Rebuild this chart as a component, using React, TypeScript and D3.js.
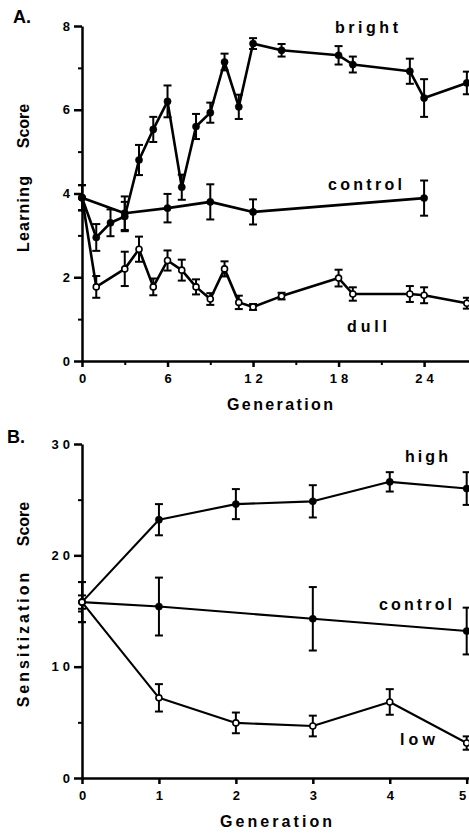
import React, { useEffect, useRef } from "react";
import * as d3 from "d3";

// Panel A: learning score by generation
const brightGen = [0, 1, 2, 3, 4, 5, 6, 7, 8, 9, 10, 11, 12, 14, 18, 19, 23, 24, 27];
const brightMean = [3.9, 2.95, 3.3, 3.45, 4.8, 5.53, 6.2, 4.15, 5.6, 5.93, 7.14, 6.07, 7.58, 7.42, 7.3, 7.08, 6.92, 6.28, 6.64];
const brightErr = [0.3, 0.32, 0.32, 0.35, 0.36, 0.3, 0.38, 0.3, 0.3, 0.24, 0.2, 0.29, 0.13, 0.15, 0.22, 0.19, 0.3, 0.45, 0.27];

const controlAGen = [0, 3, 6, 9, 12, 24];
const controlAMean = [3.9, 3.53, 3.65, 3.8, 3.56, 3.89];
const controlAErr = [0.3, 0.4, 0.34, 0.42, 0.3, 0.42];

const dullGen = [0, 1, 3, 4, 5, 6, 7, 8, 9, 10, 11, 12, 14, 18, 19, 23, 24, 27];
const dullMean = [3.9, 1.77, 2.2, 2.67, 1.77, 2.4, 2.17, 1.77, 1.48, 2.2, 1.4, 1.29, 1.55, 1.98, 1.6, 1.6, 1.57, 1.38];
const dullErr = [0.3, 0.26, 0.41, 0.3, 0.2, 0.24, 0.25, 0.18, 0.14, 0.18, 0.16, 0.07, 0.08, 0.2, 0.16, 0.19, 0.19, 0.13];

const ticksA = [0, 6, 12, 18, 24];
const minorTicksA = [3, 9, 15, 21];
const yTicksA = [0, 2, 4, 6, 8];
const yMinorA = [1, 3, 5, 7];

// Panel B: sensitization score by generation
const highGen = [0, 1, 2, 3, 4, 5];
const highMean = [15.8, 23.2, 24.6, 24.85, 26.6, 26.0];
const highErr = [1.8, 1.4, 1.35, 1.45, 0.87, 1.47];

const controlBGen = [0, 1, 3, 5];
const controlBMean = [15.8, 15.4, 14.3, 13.2];
const controlBErr = [0.6, 2.6, 2.85, 2.1];

const lowGen = [0, 1, 2, 3, 4, 5];
const lowMean = [15.8, 7.2, 4.95, 4.67, 6.83, 3.14];
const lowErr = [1.8, 1.23, 0.93, 0.93, 1.15, 0.6];

const ticksB = [0, 1, 2, 3, 4, 5];
const yTicksB = [0, 10, 20, 30];
const yMinorB = [5, 15, 25];

const FONT = "'Liberation Sans', Arial, Helvetica, sans-serif";

const zip = (gen, mean, err) => gen.map((g, i) => ({ g, m: mean[i], e: err[i] }));

const App = () => {
  const svgRef = useRef(null);

  useEffect(() => {
    const svg = d3.select(svgRef.current);
    svg.selectAll("*").remove();

    const drawPanel = (cfg) => {
      const { x, y, xTicks, xMinor, yTicks, yMinor, lineW } = cfg;
      const g = svg.append("g");
      const fmt = d3.format("d");

      // minor ticks first
      if (xMinor) {
        g.append("g")
          .attr("transform", `translate(0,${y.range()[0]})`)
          .call(d3.axisBottom(x).tickValues(xMinor).tickSize(4).tickSizeOuter(0).tickFormat(() => ""))
          .call((a) => a.select(".domain").remove())
          .selectAll("line")
          .attr("stroke-width", 2);
      }
      g.append("g")
        .attr("transform", `translate(${x.range()[0]},0)`)
        .call(d3.axisLeft(y).tickValues(yMinor).tickSize(4).tickSizeOuter(0).tickFormat(() => ""))
        .call((a) => a.select(".domain").remove())
        .selectAll("line")
        .attr("stroke-width", 2);

      const xAxis = g
        .append("g")
        .attr("transform", `translate(0,${y.range()[0]})`)
        .call(d3.axisBottom(x).tickValues(xTicks).tickFormat(fmt).tickSize(6).tickPadding(7).tickSizeOuter(0));
      const yAxis = g
        .append("g")
        .attr("transform", `translate(${x.range()[0]},0)`)
        .call(d3.axisLeft(y).tickValues(yTicks).tickFormat(fmt).tickSize(8).tickPadding(4).tickSizeOuter(0));

      [xAxis, yAxis].forEach((a) => {
        a.select(".domain").attr("stroke-width", 2.5);
        a.selectAll(".tick line").attr("stroke-width", 2.5);
        a.selectAll("text")
          .attr("font-family", FONT)
          .attr("font-weight", "bold")
          .attr("font-size", 13)
          .attr("letter-spacing", 4)
          .attr("fill", "#000");
      });
      xAxis.selectAll("text").attr("dx", 2);
      yAxis.selectAll("text").attr("dx", 4);
      // keep the last x label inside the picture
      xAxis.selectAll("text").filter((d) => x(d) > 462).attr("text-anchor", "end").attr("dx", 3);

      const line = d3
        .line()
        .x((d) => x(d.g))
        .y((d) => y(d.m));

      cfg.series.forEach((s) => {
        g.append("path")
          .datum(s.data)
          .attr("fill", "none")
          .attr("stroke", "#000")
          .attr("stroke-width", lineW)
          .attr("stroke-linejoin", "round")
          .attr("d", line);

        const bars = g.append("g").attr("stroke", "#000").attr("stroke-width", 2);
        s.data.forEach((d) => {
          const cx = x(d.g);
          bars.append("line").attr("x1", cx).attr("x2", cx).attr("y1", y(d.m - d.e)).attr("y2", y(d.m + d.e));
          bars.append("line").attr("x1", cx - 4).attr("x2", cx + 4).attr("y1", y(d.m + d.e)).attr("y2", y(d.m + d.e));
          bars.append("line").attr("x1", cx - 4).attr("x2", cx + 4).attr("y1", y(d.m - d.e)).attr("y2", y(d.m - d.e));
        });

        g.append("g")
          .selectAll("circle")
          .data(s.data)
          .join("circle")
          .attr("cx", (d) => x(d.g))
          .attr("cy", (d) => y(d.m))
          .attr("r", s.open ? 3 : 3.6)
          .attr("fill", s.open ? "#fff" : "#000")
          .attr("stroke", "#000")
          .attr("stroke-width", s.open ? 1.6 : 0.5);
      });

      const txt = (t, px, py, len, size = 16) =>
        g.append("text")
          .attr("x", px)
          .attr("y", py)
          .attr("font-family", FONT)
          .attr("font-weight", "bold")
          .attr("font-size", size)
          .attr("textLength", len)
          .attr("lengthAdjust", "spacing")
          .text(t);

      cfg.labels.forEach((l) => txt(l.t, l.x, l.y, l.w));
      txt("Generation", cfg.genX, cfg.genY, cfg.genW);
      g.append("text")
        .attr("x", cfg.panel[1])
        .attr("y", cfg.panel[2])
        .attr("font-family", FONT)
        .attr("font-weight", "bold")
        .attr("font-size", 18)
        .text(cfg.panel[0]);

      cfg.yTitle.forEach((w) => {
        g.append("text")
          .attr("transform", `translate(29,${w.c}) rotate(-90)`)
          .attr("text-anchor", "middle")
          .attr("font-family", FONT)
          .attr("font-weight", "bold")
          .attr("font-size", 16)
          .attr("letter-spacing", w.ls)
          .attr("dx", w.ls / 2)
          .text(w.t);
      });
    };

    drawPanel({
      x: d3.scaleLinear().domain([0, 27.15]).range([82, 469]),
      y: d3.scaleLinear().domain([0, 8]).range([361, 26]),
      xTicks: ticksA,
      xMinor: minorTicksA,
      yTicks: yTicksA,
      yMinor: yMinorA,
      lineW: 2.6,
      series: [
        { data: zip(controlAGen, controlAMean, controlAErr) },
        { data: zip(dullGen, dullMean, dullErr), open: true },
        { data: zip(brightGen, brightMean, brightErr) },
      ],
      labels: [
        { t: "bright", x: 335, y: 33, w: 63 },
        { t: "control", x: 328, y: 190, w: 74 },
        { t: "dull", x: 347, y: 332, w: 40 },
      ],
      genX: 227,
      genY: 410,
      genW: 106,
      panel: ["A.", 13, 23],
      yTitle: [
        { t: "Score", c: 126, ls: 0 },
        { t: "Learning", c: 214, ls: 1.2 },
      ],
    });

    drawPanel({
      x: d3.scaleLinear().domain([0, 5.03]).range([82, 469]),
      y: d3.scaleLinear().domain([0, 30]).range([778, 444]),
      xTicks: ticksB,
      xMinor: null,
      yTicks: yTicksB,
      yMinor: yMinorB,
      lineW: 2.1,
      series: [
        { data: zip(highGen, highMean, highErr) },
        { data: zip(controlBGen, controlBMean, controlBErr) },
        { data: zip(lowGen, lowMean, lowErr), open: true },
      ],
      labels: [
        { t: "high", x: 405, y: 462, w: 43 },
        { t: "control", x: 379, y: 610, w: 73 },
        { t: "low", x: 400, y: 745, w: 35 },
      ],
      genX: 220,
      genY: 827,
      genW: 112,
      panel: ["B.", 7, 443],
      yTitle: [
        { t: "Score", c: 524, ls: 0 },
        { t: "Sensitization", c: 640, ls: 3 },
      ],
    });
  }, []);

  return (
    <svg
      ref={svgRef}
      width="469"
      height="833"
      style={{ position: "absolute", left: 0, top: 0, background: "#fff" }}
    ></svg>
  );
};

export default App;
